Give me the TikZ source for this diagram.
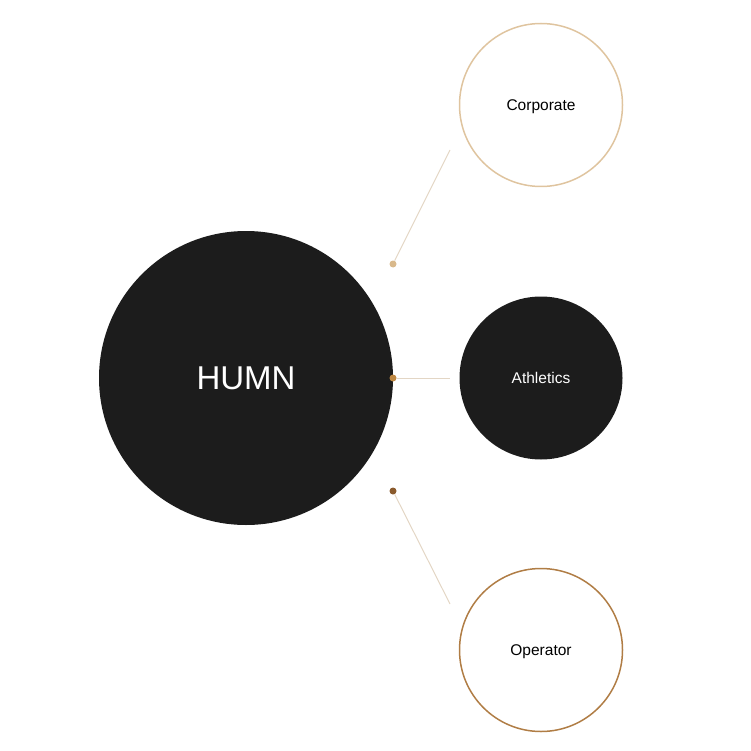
\documentclass[tikz,border=0pt]{standalone}
\usepackage{fontspec}
\setmainfont{Liberation Sans}
\definecolor{humnblack}{HTML}{1C1C1C}
\definecolor{corptan}{HTML}{DFC49F}
\definecolor{corpdot}{HTML}{D9B98C}
\definecolor{athdot}{HTML}{BF8843}
\definecolor{operbrown}{HTML}{B07D45}
\definecolor{operdot}{HTML}{8A5A2C}
\definecolor{linktan}{HTML}{E3D6C5}
\begin{document}
\begin{tikzpicture}[x=1pt,y=-1pt,
        hub/.style = {circle,
            fill=humnblack,
            text=white,
            minimum size =294pt,
            inner sep=0pt,
            font=\fontsize{33}{36}\selectfont
        },
        branch/.style = {circle,
            line width=1.5pt,
            minimum size =163pt,
            inner sep=0pt,
            text depth=0pt,
            font=\fontsize{15.5}{18}\selectfont
        },
        link/.style = {draw=linktan,
            line width=1pt
        },
        dot/.style = {circle,
            minimum size =7pt,
            inner sep=0pt
        }]
    
    \useasboundingbox (0,0) rectangle (750,751);
    
    % Hub
    \node [hub] (humn) at (246,378){HUMN};
    
    % Branches
    \node [branch, draw=corptan] (corporate) at (541,105){Corporate};
    \node [branch, fill=humnblack, text=white] (athletics) at (541,378){Athletics};
    \node [branch, draw=operbrown] (operator) at (541,650){Operator};
    
    % Dots
    \node [dot, fill=corpdot] (dotC) at (393,264){};
    \node [dot, fill=athdot] (dotA) at (393,378){};
    \node [dot, fill=operdot] (dotO) at (393,491){};
    
    % Link ends
    \coordinate (endC) at (450,150);
    \coordinate (endA) at (450,378);
    \coordinate (endO) at (450,604);
    
    % Links
    \draw[link] (dotC) -- (endC);
    \draw[link] (dotA) -- (endA);
    \draw[link] (dotO) -- (endO);
    
    \end{tikzpicture}
\end{document}
